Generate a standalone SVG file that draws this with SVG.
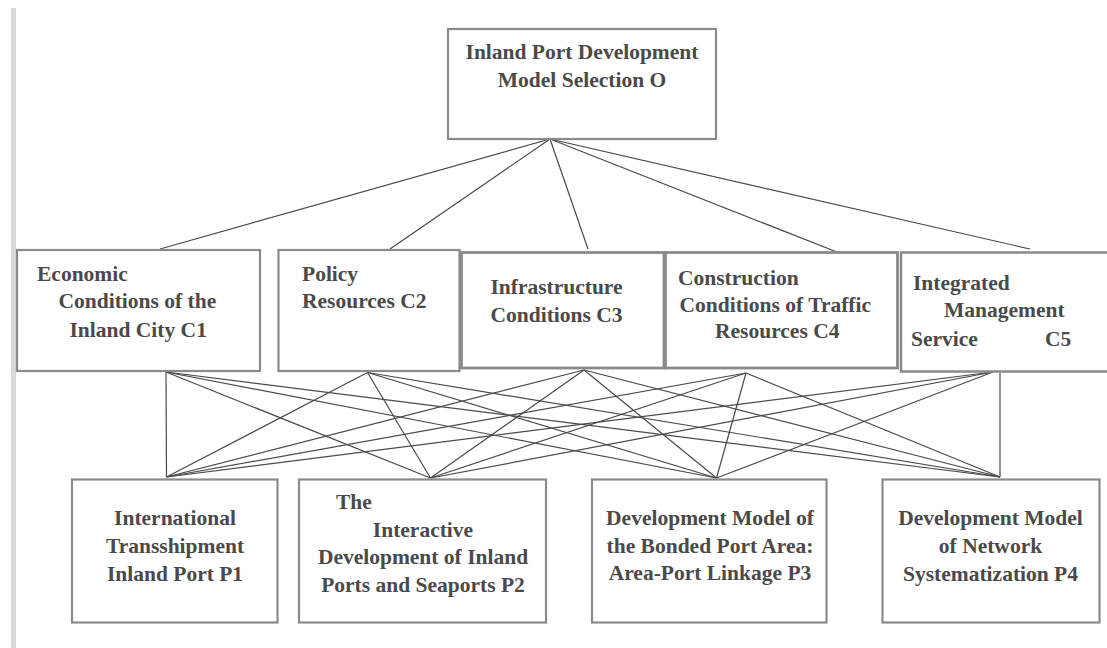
<svg xmlns="http://www.w3.org/2000/svg" width="1107" height="648" viewBox="0 0 1107 648">
<style>
.box{fill:#fff;stroke:#8a8a8a;stroke-width:2.2}
.t{font-family:"Liberation Serif","Times New Roman",serif;font-weight:bold;font-size:21.5px;fill:#4a4a4a}
.m{text-anchor:middle}
.c line{stroke:#4a4a4a;stroke-width:1.2}
</style>
<rect x="0" y="0" width="1107" height="648" fill="#fff"/>
<rect x="11" y="8" width="5" height="640" fill="#d9d9d9"/>
<g class="c" id="connectors">
<line x1="550" y1="139" x2="160" y2="249"/>
<line x1="550" y1="139" x2="390" y2="249"/>
<line x1="550" y1="139" x2="588" y2="249"/>
<line x1="550" y1="139" x2="842" y2="254"/>
<line x1="550" y1="139" x2="1030" y2="249"/>
<line x1="166" y1="372" x2="166.5" y2="477"/>
<line x1="166" y1="372" x2="430.5" y2="478"/>
<line x1="166" y1="372" x2="716.5" y2="478"/>
<line x1="166" y1="372" x2="1000" y2="477"/>
<line x1="367.5" y1="372.5" x2="166.5" y2="477"/>
<line x1="367.5" y1="372.5" x2="430.5" y2="478"/>
<line x1="367.5" y1="372.5" x2="716.5" y2="478"/>
<line x1="367.5" y1="372.5" x2="1000" y2="477"/>
<line x1="584" y1="370" x2="166.5" y2="477"/>
<line x1="584" y1="370" x2="430.5" y2="478"/>
<line x1="584" y1="370" x2="716.5" y2="478"/>
<line x1="584" y1="370" x2="1000" y2="477"/>
<line x1="746" y1="373" x2="166.5" y2="477"/>
<line x1="746" y1="373" x2="430.5" y2="478"/>
<line x1="746" y1="373" x2="716.5" y2="478"/>
<line x1="746" y1="373" x2="1000" y2="477"/>
<line x1="993" y1="372" x2="166.5" y2="477"/>
<line x1="993" y1="372" x2="430.5" y2="478"/>
<line x1="993" y1="372" x2="716.5" y2="478"/>
<line x1="1000" y1="372.5" x2="1000" y2="477"/>
</g>
<g id="O">
<rect class="box" x="448" y="29" width="268" height="110"/>
<text class="t m" x="582" y="59.3">Inland Port Development</text>
<text class="t m" x="582" y="87.3">Model Selection O</text>
</g>
<g id="C1">
<rect class="box" x="17" y="250" width="243" height="121"/>
<text class="t" x="37" y="281">Economic</text>
<text class="t" x="58.5" y="308.3">Conditions of the</text>
<text class="t" x="69.5" y="336.5">Inland City C1</text>
</g>
<g id="C2">
<rect class="box" x="278.5" y="250" width="181" height="121"/>
<text class="t" x="302" y="281">Policy</text>
<text class="t" x="302" y="308.3">Resources C2</text>
</g>
<g id="C3">
<rect class="box" x="461.5" y="252.5" width="202.5" height="115.5" style="stroke-width:2.8"/>
<text class="t m" x="556.5" y="294">Infrastructure</text>
<text class="t m" x="556.5" y="321.7">Conditions C3</text>
</g>
<g id="C4">
<rect class="box" x="665.5" y="252.5" width="232" height="115.5" style="stroke-width:2.8"/>
<text class="t" x="678" y="285">Construction</text>
<text class="t" x="679.5" y="311.7">Conditions of Traffic</text>
<text class="t" x="715" y="338.3">Resources C4</text>
</g>
<g id="C5">
<rect class="box" x="901" y="252.5" width="210" height="119" style="stroke-width:2.5"/>
<text class="t" x="913" y="290">Integrated</text>
<text class="t" x="944" y="317.3">Management</text>
<text class="t" x="911" y="346">Service</text>
<text class="t" x="1045" y="346">C5</text>
</g>
<g id="P1">
<rect class="box" x="72" y="479.5" width="205.5" height="143"/>
<text class="t m" x="175" y="525">International</text>
<text class="t m" x="175" y="553">Transshipment</text>
<text class="t m" x="175" y="581">Inland Port P1</text>
</g>
<g id="P2">
<rect class="box" x="299" y="479.5" width="247" height="143"/>
<text class="t" x="336" y="509">The</text>
<text class="t m" x="423" y="536.7">Interactive</text>
<text class="t m" x="423" y="564">Development of Inland</text>
<text class="t m" x="423" y="591.7">Ports and Seaports P2</text>
</g>
<g id="P3">
<rect class="box" x="592" y="479.5" width="234.5" height="143"/>
<text class="t m" x="710" y="525">Development Model of</text>
<text class="t m" x="710" y="552.5">the Bonded Port Area:</text>
<text class="t m" x="710" y="580">Area-Port Linkage P3</text>
</g>
<g id="P4">
<rect class="box" x="882.5" y="479.5" width="217" height="143"/>
<text class="t m" x="990.5" y="525">Development Model</text>
<text class="t m" x="990.5" y="552.7">of Network</text>
<text class="t m" x="990.5" y="580.7">Systematization P4</text>
</g>
</svg>
